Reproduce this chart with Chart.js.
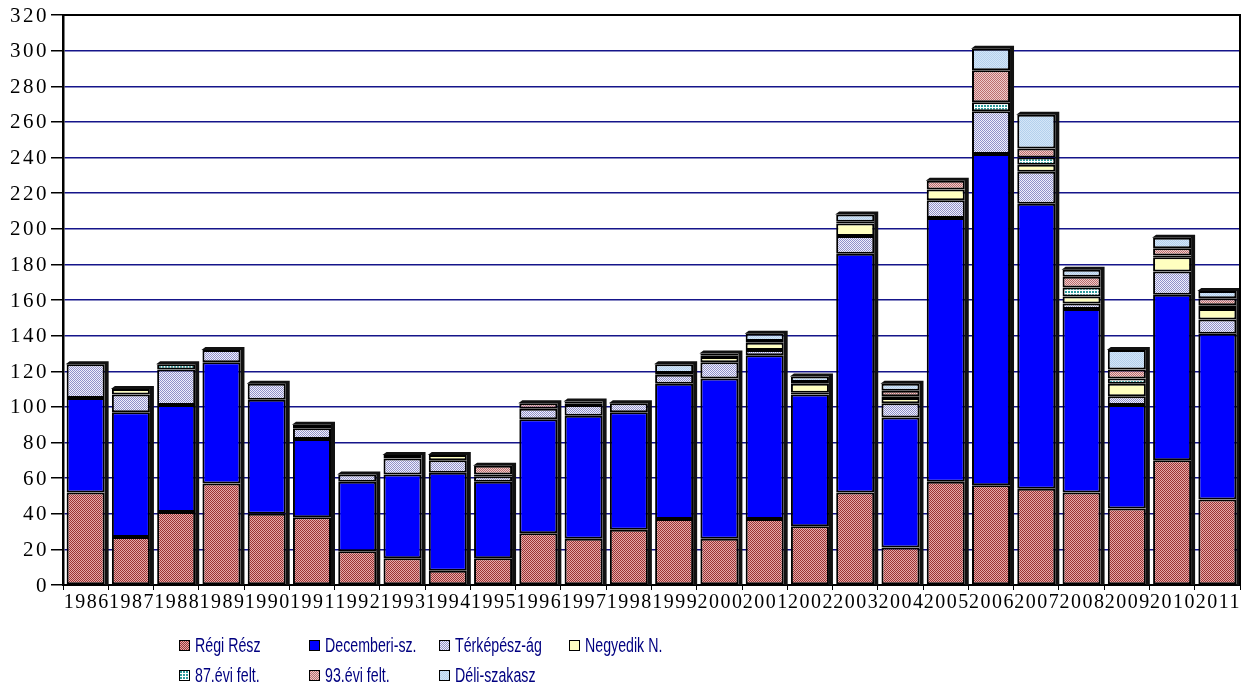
<!DOCTYPE html>
<html lang="hu">
<head>
<meta charset="utf-8">
<title>Évenként felmért szakaszok</title>
<script src="https://cdn.jsdelivr.net/npm/chart.js@4.4.1/dist/chart.umd.min.js"></script>
<style>
  html, body { margin: 0; padding: 0; background: #fff; }
  #wrap { position: relative; width: 1245px; height: 686px; }
  #legend {
    position: absolute; left: 179px; top: 634px;
    display: grid; grid-template-columns: repeat(4, 130px); row-gap: 8px;
    font-family: "Liberation Sans", Arial, sans-serif;
    font-size: 20px; color: #000080;
  }
  #legend div { display: flex; align-items: center; height: 22px; white-space: nowrap; }
  #legend span.box {
    display: inline-block; width: 9px; height: 9px; margin-right: 5px;
    border: 1.5px solid #000; flex: none;
  }
  /* narrow lettering */
  #legend span.txt { display: inline-block; transform: scaleX(0.71); transform-origin: left center; }
</style>
</head>
<body>
<div id="wrap">
  <canvas id="myChart" width="1245" height="686"></canvas>
  <div id="legend"></div>
</div>
<script>
const years = ['1986', '1987', '1988', '1989', '1990', '1991', '1992', '1993', '1994', '1995', '1996', '1997', '1998',
               '1999', '2000', '2001', '2002', '2003', '2004', '2005', '2006', '2007', '2008', '2009', '2010', '2011'];

const regiResz     = [52, 27, 41, 57, 40, 38, 19, 15, 8, 15, 29, 26, 31, 37, 26, 37, 33, 52, 21, 58, 56, 54, 52, 43, 70, 48];
const decemberi    = [53, 70, 60, 68, 64, 44, 39, 47, 55, 43, 64, 69, 66, 76, 90, 92, 74, 134, 73, 148, 186, 160, 103, 58, 93, 93];
const terkepesz    = [19, 10, 20, 7, 9, 6, 4, 9, 7, 3, 6, 6, 5, 5, 9, 3, 1, 10, 8, 10, 24, 18, 3, 5, 13, 8];
const negyedik     = [0, 3, 0, 0, 0, 2, 0, 0, 3, 1, 0, 1, 0, 0, 3, 4, 5, 7, 3, 6, 0, 4, 4, 7, 8, 6];
const felt87       = [0, 0, 3, 0, 0, 0, 0, 2, 0, 0, 0, 0, 0, 0, 1, 0, 1, 0, 1, 0, 5, 4, 5, 3, 1, 2];
const felt93       = [0, 0, 0, 0, 0, 0, 0, 0, 0, 5, 3, 1, 0, 1, 1, 1, 0, 1, 3, 5, 18, 5, 6, 5, 4, 4];
const deliSzakasz  = [0, 0, 0, 0, 0, 0, 0, 0, 0, 0, 0, 0, 0, 5, 0, 4, 3, 4, 4, 0, 12, 19, 4, 11, 6, 4];

const yTicks = [0, 20, 40, 60, 80, 100, 120, 140, 160, 180, 200, 220, 240, 260, 280, 300, 320];

// small dithered tiles, like the old office fill patterns
function makeTile(size, paint) {
    const c = document.createElement('canvas');
    c.width = size;
    c.height = size;
    paint(c.getContext('2d'), size);
    return c;
}
function checker(a, b) {
    return makeTile(4, (g, s) => {
        for (let y = 0; y < s; y++) {
            for (let x = 0; x < s; x++) {
                g.fillStyle = (x + y) % 2 === 0 ? a : b;
                g.fillRect(x, y, 1, 1);
            }
        }
    });
}
function solid(col) {
    return makeTile(4, (g, s) => { g.fillStyle = col; g.fillRect(0, 0, s, s); });
}
const tealGrid = makeTile(3, (g, s) => {
    g.fillStyle = '#ffffff';
    g.fillRect(0, 0, s, s);
    g.fillStyle = '#2f9c9c';
    g.fillRect(0, 0, 2, 2);
});

const tiles = {
    regi: checker('#9c3434', '#e6aaaa'),
    dec: solid('#0000ff'),
    terk: checker('#9090c8', '#f0f0fc'),
    negy: solid('#ffffc0'),
    f87: tealGrid,
    f93: checker('#bc6e6e', '#eecccc'),
    deli: checker('#b4d0ec', '#d4e6f8'),
};

const ctx = document.getElementById('myChart');
const c2d = ctx.getContext('2d');
const pat = t => c2d.createPattern(t, 'repeat');

const series = [
    { label: 'Régi Rész', data: regiResz, tile: tiles.regi },
    { label: 'Decemberi-sz.', data: decemberi, tile: tiles.dec },
    { label: 'Térképész-ág', data: terkepesz, tile: tiles.terk },
    { label: 'Negyedik N.', data: negyedik, tile: tiles.negy },
    { label: '87.évi felt.', data: felt87, tile: tiles.f87 },
    { label: '93.évi felt.', data: felt93, tile: tiles.f93 },
    { label: 'Déli-szakasz', data: deliSzakasz, tile: tiles.deli },
];

// dark side and top face behind every column
const depth = {
    id: 'depth',
    beforeDatasetsDraw(chart) {
        const g = chart.ctx;
        const base = chart.scales.y.getPixelForValue(0);
        const d = 4;
        g.save();
        g.fillStyle = '#111';
        years.forEach((_, i) => {
            let top = base, el = null;
            chart.data.datasets.forEach((ds, k) => {
                const e = chart.getDatasetMeta(k).data[i];
                if (ds.data[i] > 0 && e.y < top) { top = e.y; el = e; }
            });
            if (!el) return;
            const x0 = el.x - el.width / 2, x1 = el.x + el.width / 2;
            g.beginPath();
            g.moveTo(x0 - 1, top);
            g.lineTo(x0 + d - 1, top - d + 1);
            g.lineTo(x1 + d, top - d + 1);
            g.lineTo(x1 + d, base);
            g.lineTo(x1, base);
            g.lineTo(x1, top);
            g.closePath();
            g.fill();
        });
        g.restore();
    }
};

// frame on top/right and the spaced serif axis numbers
const frameAndText = {
    id: 'frameAndText',
    afterDraw(chart) {
        const g = chart.ctx;
        const { left, right, top, bottom } = chart.chartArea;
        const { x, y } = chart.scales;
        g.save();
        g.strokeStyle = '#000';
        g.lineWidth = 2;
        g.beginPath();
        g.moveTo(left, top);
        g.lineTo(right, top);
        g.lineTo(right, bottom);
        g.stroke();

        g.fillStyle = '#000';
        g.font = '21px "Liberation Serif", "Times New Roman", serif';
        g.letterSpacing = '2.5px';
        g.textAlign = 'right';
        g.textBaseline = 'middle';
        yTicks.forEach(v => g.fillText(String(v), 49, y.getPixelForValue(v) + 1));

        g.font = '20px "Liberation Serif", "Times New Roman", serif';
        g.letterSpacing = '1.5px';
        g.textAlign = 'center';
        g.textBaseline = 'top';
        years.forEach((lab, i) => g.fillText(lab, x.getPixelForValue(i) + 1, bottom + 8));
        g.restore();
    }
};

new Chart(ctx, {
    type: 'bar',
    data: {
        labels: years,
        datasets: series.map(s => ({
            label: s.label,
            data: s.data,
            backgroundColor: pat(s.tile),
            borderColor: '#000',
            borderWidth: 2,
            borderSkipped: false,
            barPercentage: 0.84,
            categoryPercentage: 1.0,
        }))
    },
    options: {
        responsive: false,
        animation: false,
        layout: { padding: { left: 0, right: 5, top: 15, bottom: 71 } },
        plugins: {
            legend: { display: false },
            tooltip: { enabled: false },
        },
        scales: {
            x: {
                stacked: true,
                offset: true,
                grid: {
                    offset: true,
                    drawOnChartArea: false,
                    tickLength: 5,
                    tickColor: '#000',
                },
                border: { color: '#000', width: 2 },
                ticks: { autoSkip: false, maxRotation: 0, color: 'rgba(0,0,0,0)', font: { size: 12 } },
                afterFit: s => { s.height = 30; },
            },
            y: {
                stacked: true,
                min: 0,
                max: 320,
                grid: {
                    color: c => (c.tick && (c.tick.value === 0 || c.tick.value === 320)) ? '#000' : '#15158a',
                    lineWidth: 1.5,
                    tickLength: 12,
                    tickColor: '#000',
                },
                border: { color: '#000', width: 2.5 },
                ticks: { stepSize: 20, color: 'rgba(0,0,0,0)', font: { size: 12 } },
                afterFit: s => { s.width = 63; },
            }
        }
    },
    plugins: [depth, frameAndText]
});

// legend laid out in a fixed four-column grid
const legend = document.getElementById('legend');
series.forEach(s => {
    const item = document.createElement('div');
    const box = document.createElement('span');
    box.className = 'box';
    box.style.backgroundImage = 'url(' + s.tile.toDataURL() + ')';
    const txt = document.createElement('span');
    txt.className = 'txt';
    txt.textContent = s.label;
    item.appendChild(box);
    item.appendChild(txt);
    legend.appendChild(item);
});
</script>
</body>
</html>
